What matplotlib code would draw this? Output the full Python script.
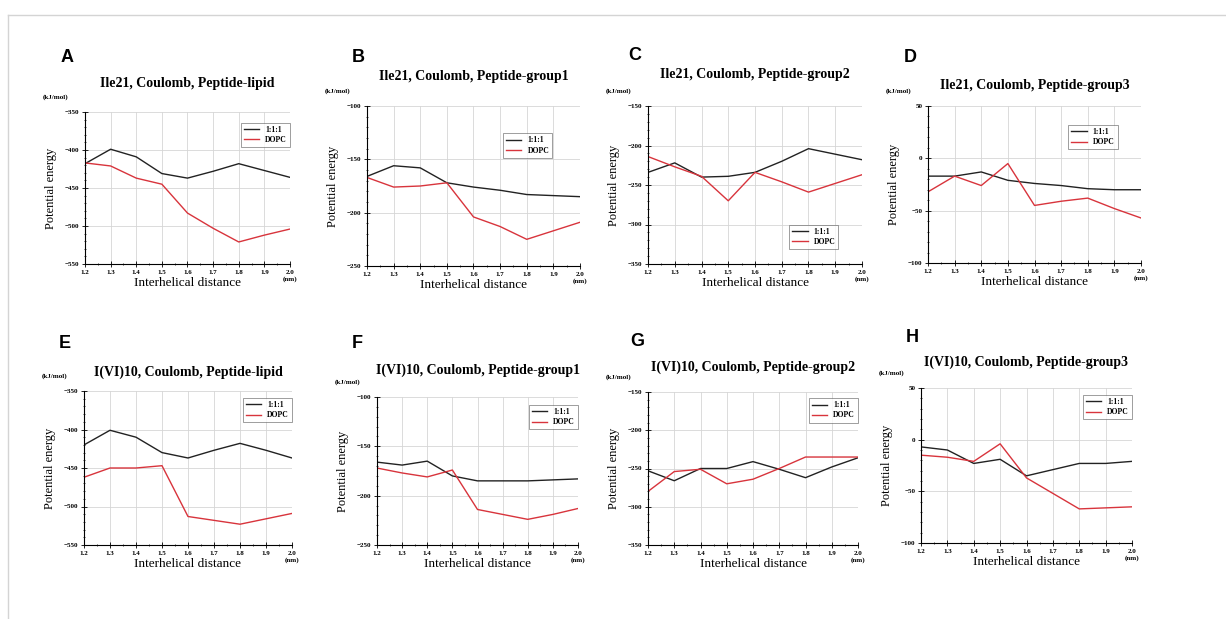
import matplotlib
matplotlib.use("Agg")
import matplotlib.pyplot as plt
from matplotlib.lines import Line2D
import numpy as np

# interhelical distance (nm)
distance = [1.2, 1.3, 1.4, 1.5, 1.6, 1.7, 1.8, 1.9, 2.0]

letters = ["A", "B", "C", "D", "E", "F", "G", "H"]
titles = [
    "Ile21, Coulomb, Peptide-lipid",
    "Ile21, Coulomb, Peptide-group1",
    "Ile21, Coulomb, Peptide-group2",
    "Ile21, Coulomb, Peptide-group3",
    "I(VI)10, Coulomb, Peptide-lipid",
    "I(VI)10, Coulomb, Peptide-group1",
    "I(VI)10, Coulomb, Peptide-group2",
    "I(VI)10, Coulomb, Peptide-group3",
]

# potential energy (kJ/mol), mixed 1:1:1 membrane
mix_A = [-418, -399, -409, -431, -437, -428, -418, -427, -436]
mix_B = [-166, -156, -158, -172, -176, -179, -183, -184, -185]
mix_C = [-234, -222, -240, -239, -234, -220, -204, -211, -218]
mix_D = [-17, -17, -13, -21, -24, -26, -29, -30, -30]
mix_E = [-420, -401, -410, -430, -437, -427, -418, -427, -437]
mix_F = [-166, -169, -165, -180, -185, -185, -185, -184, -183]
mix_G = [-253, -266, -250, -250, -241, -251, -262, -248, -236]
mix_H = [-7, -10, -23, -19, -35, -29, -23, -23, -21]

# potential energy (kJ/mol), DOPC membrane
dopc_A = [-417, -421, -437, -445, -483, -503, -521, -512, -504]
dopc_B = [-167, -176, -175, -172, -204, -213, -225, -217, -209]
dopc_C = [-214, -227, -239, -270, -234, -246, -259, -248, -237]
dopc_D = [-32, -17, -26, -5, -45, -41, -38, -48, -57]
dopc_E = [-462, -450, -450, -447, -513, -518, -523, -516, -509]
dopc_F = [-172, -177, -181, -174, -214, -219, -224, -219, -213]
dopc_G = [-280, -254, -251, -270, -264, -250, -235, -235, -235]
dopc_H = [-15, -17, -21, -4, -37, -52, -67, -66, -65]

mix = [mix_A, mix_B, mix_C, mix_D, mix_E, mix_F, mix_G, mix_H]
dopc = [dopc_A, dopc_B, dopc_C, dopc_D, dopc_E, dopc_F, dopc_G, dopc_H]

# y ranges (bottom, top, step)
y_ranges = [
    (-550, -350, 50), (-250, -100, 50), (-350, -150, 50), (-100, 50, 50),
    (-550, -350, 50), (-250, -100, 50), (-350, -150, 50), (-100, 50, 50),
]

# ---- layout ----
W, H = 1226, 619
# axes boxes in pixels: left, right, top, bottom
boxes = [
    (85, 290, 112, 264), (367, 580, 106, 266), (648, 862, 106, 264), (928, 1141, 106, 263),
    (84, 292, 391, 545), (377, 578, 397, 545), (648, 858, 392, 545), (921, 1132, 388, 543),
]
letter_xy = [(67, 57), (358, 57), (635, 55), (910, 57),
             (65, 343), (357, 343), (637, 342), (912, 338)]
title_pads = [18, 19, 20, 12, 11, 17, 15, 16]  # points
# legend upper-right corner, axes fraction
legend_anchor = [(1.0, 0.93), (0.87, 0.83), (0.89, 0.25), (0.89, 0.88),
                 (1.0, 0.955), (1.0, 0.946), (1.0, 0.96), (1.0, 0.955)]

fig = plt.figure(figsize=(W / 100, H / 100), dpi=100)
serif = ["Liberation Serif", "DejaVu Serif"]
red = "#d8343c"

for i in range(8):
    l, r, t, b = boxes[i]
    ax = fig.add_axes([l / W, 1 - b / H, (r - l) / W, (b - t) / H])
    ax.plot(distance, mix[i], color="#222222", lw=1.0, label="1:1:1")
    ax.plot(distance, dopc[i], color=red, lw=1.0, label="DOPC")
    lo, hi, step = y_ranges[i]
    ax.set_ylim(lo, hi)
    ax.set_xlim(1.2, 2.0)
    ax.set_yticks(np.arange(lo, hi + 1, step))
    ax.set_yticks(np.arange(lo, hi + 1, step / 5), minor=True)
    ax.set_xticks(distance)
    ax.set_xticks(np.arange(1.2, 2.01, 0.05), minor=True)
    ax.set_xticklabels(["%.1f" % d for d in distance])
    ax.grid(True, which="major", color="#d6d6d6", lw=0.6)
    for s in ["top", "right"]:
        ax.spines[s].set_visible(False)
    for s in ["left", "bottom"]:
        ax.spines[s].set_linewidth(0.8)
    ax.tick_params(which="major", direction="inout", length=4, width=0.6, labelsize=5, pad=2)
    ax.tick_params(which="minor", direction="inout", length=2, width=0.5)
    for lab in ax.get_xticklabels() + ax.get_yticklabels():
        lab.set_family(serif)
        lab.set_fontweight("bold")
    ax.set_title(titles[i], family=serif, fontweight="bold", fontsize=10, pad=title_pads[i])
    ax.set_xlabel("Interhelical distance", family=serif, fontsize=9.5, labelpad=2)
    ax.set_ylabel("Potential energy", family=serif, fontsize=9, labelpad=6)
    ax.annotate("(kJ/mol)", xy=(0, 1), xycoords="axes fraction", xytext=(-12, 11),
                textcoords="offset points", ha="right", va="center",
                family=serif, fontsize=5, fontweight="bold")
    ax.annotate("(nm)", xy=(1, 0), xycoords="axes fraction", xytext=(0, -11),
                textcoords="offset points", ha="center", va="center",
                family=serif, fontsize=5, fontweight="bold")
    lx, ly = letter_xy[i]
    fig.text(lx / W, 1 - ly / H, letters[i], ha="center", va="center",
             family=["Liberation Sans", "DejaVu Sans"], fontsize=13, fontweight="bold")
    leg = ax.legend(loc="upper right", bbox_to_anchor=legend_anchor[i], frameon=True,
                    fancybox=False, handlelength=2.0, borderpad=0.4, labelspacing=0.3,
                    borderaxespad=0, prop={"family": serif, "size": 5.5, "weight": "bold"})
    leg.get_frame().set_edgecolor("#555555")
    leg.get_frame().set_linewidth(0.5)

# light frame of the figure
fig.add_artist(Line2D([8 / W, 1], [1 - 15 / H, 1 - 15 / H], color="#d4d4d4", lw=1))
fig.add_artist(Line2D([8 / W, 8 / W], [0, 1 - 15 / H], color="#d4d4d4", lw=1))

fig.savefig("out.png", dpi=100)
